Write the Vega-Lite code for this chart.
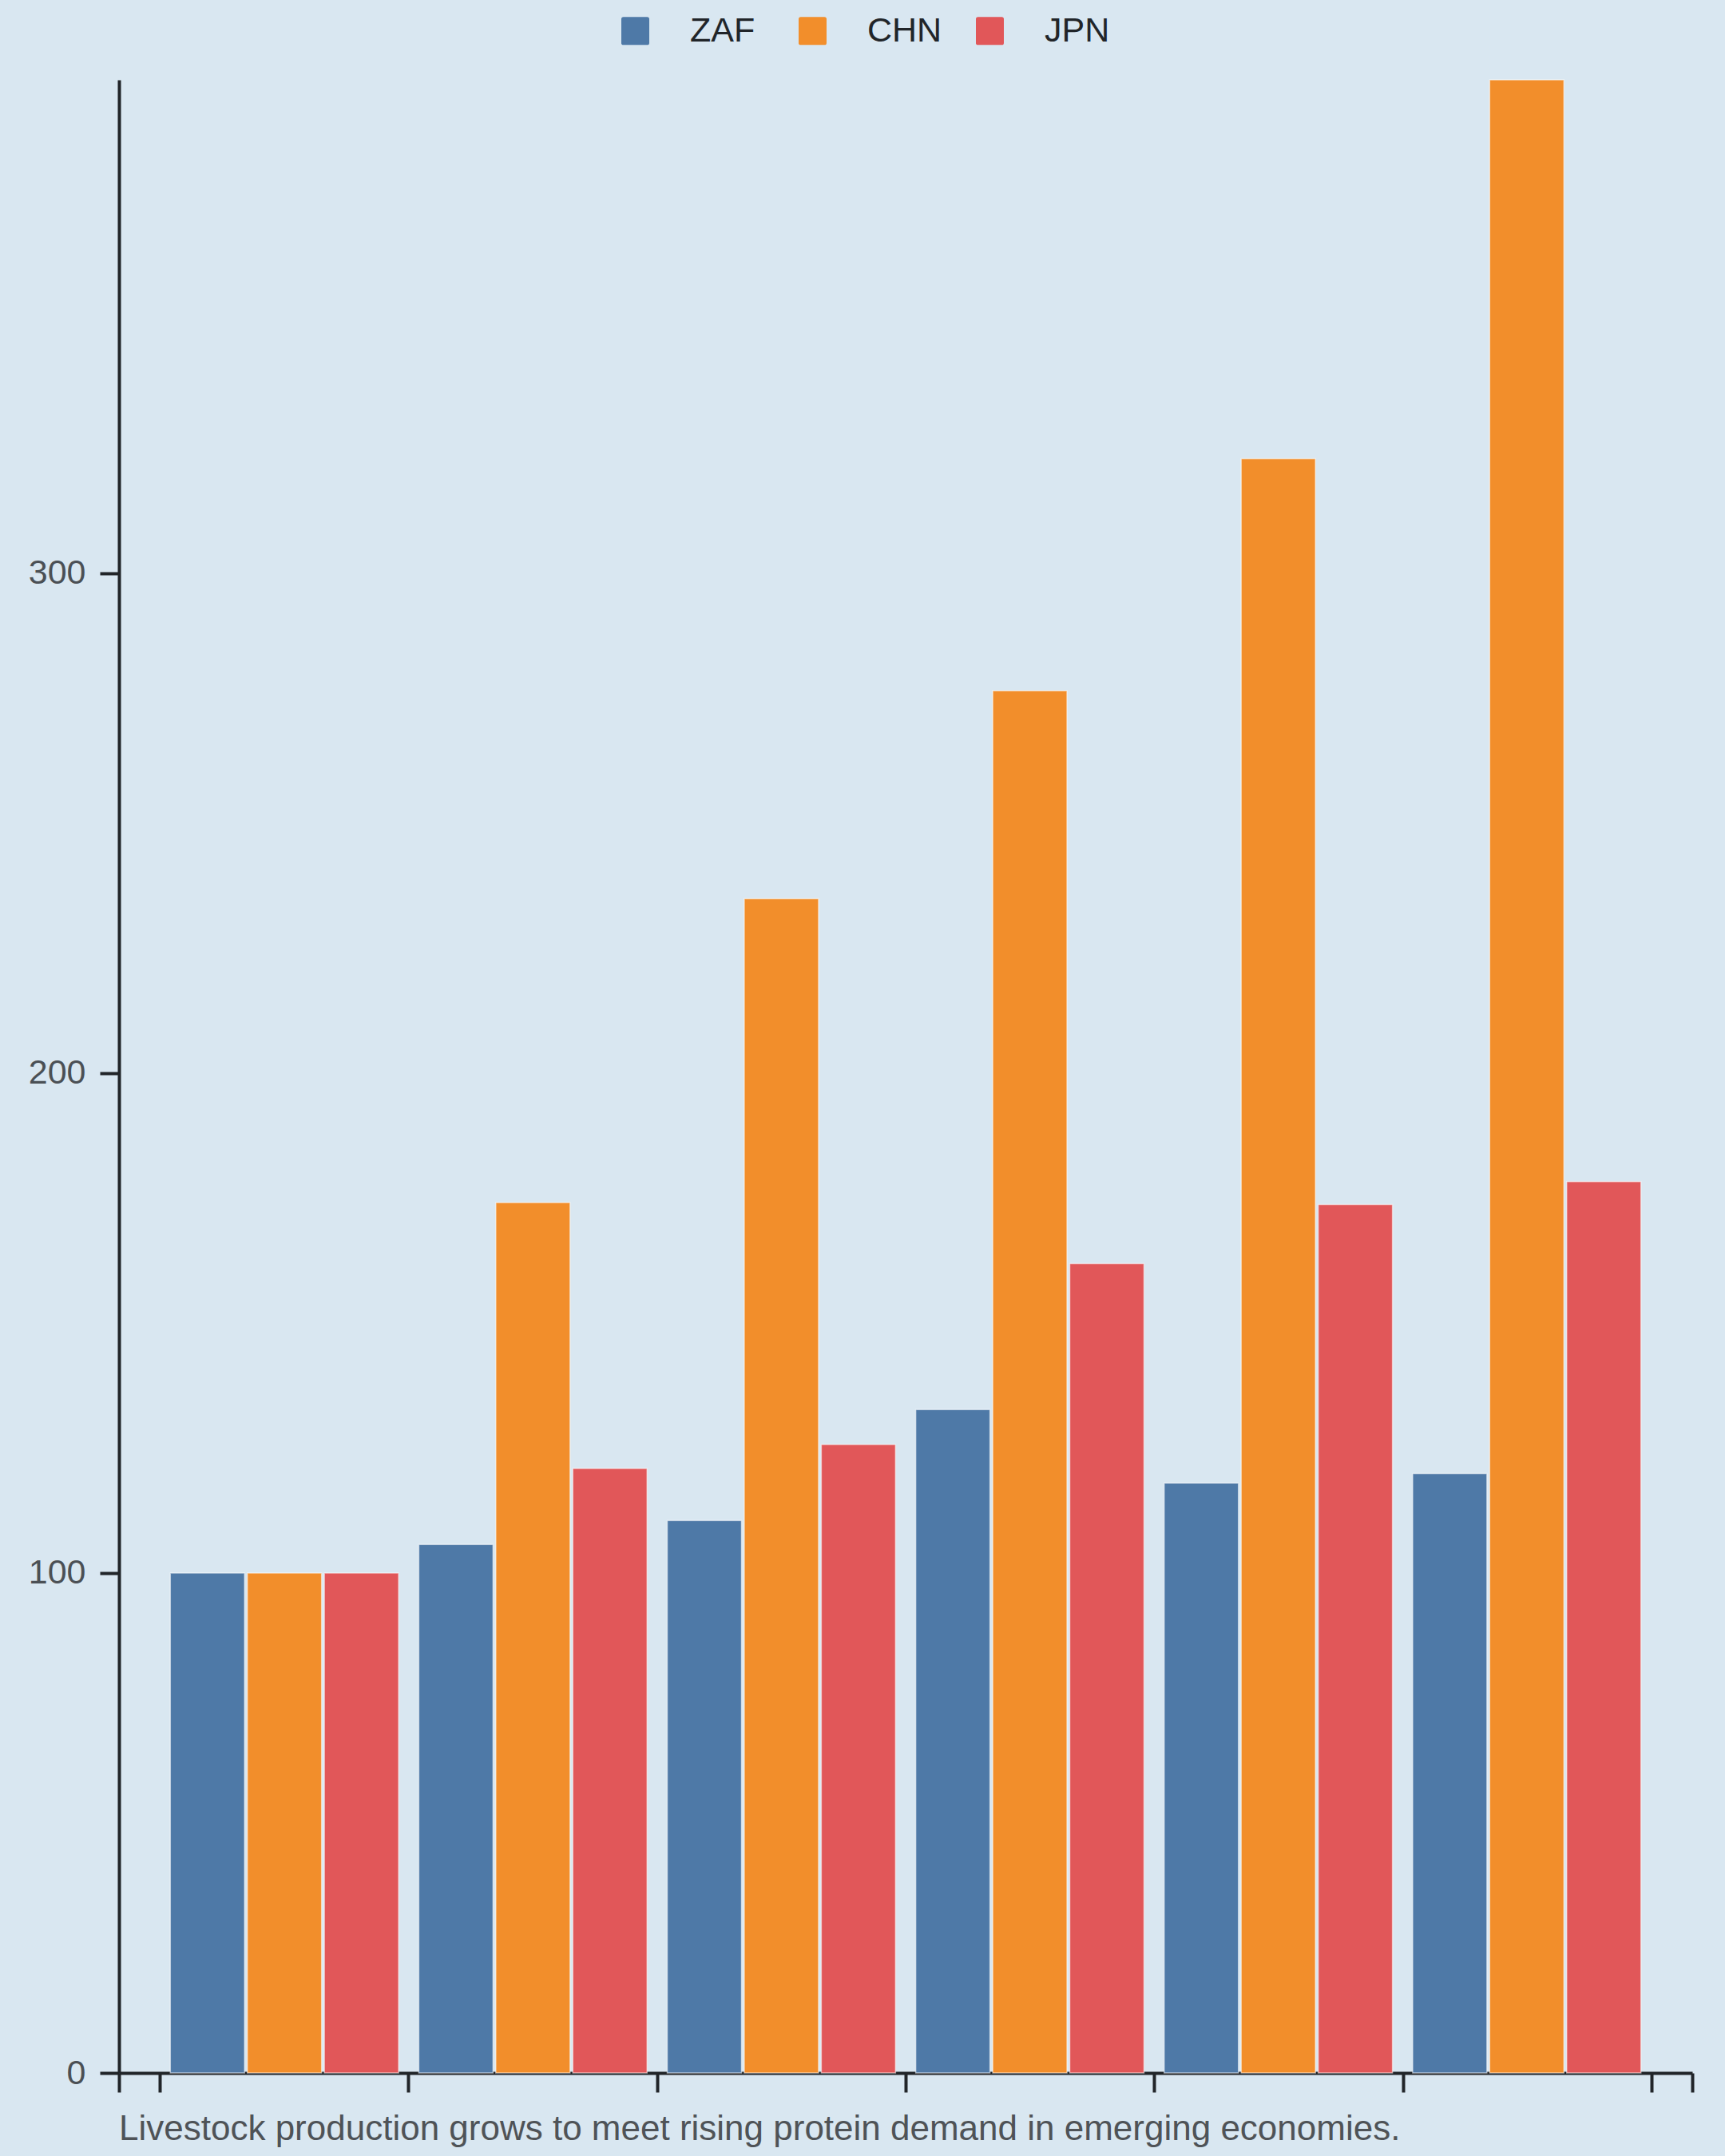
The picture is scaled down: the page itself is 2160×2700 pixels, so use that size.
{
  "$schema": "https://vega.github.io/schema/vega-lite/v6.json",
  "width": 1970,
  "height": 2496,
  "autosize": "none",
  "padding": {"left": 149, "top": 100, "right": 41, "bottom": 104},
  "background": "#d9e7f1",
  "title": {
    "text": "Livestock production grows to meet rising protein demand in emerging economies.",
    "orient": "bottom",
    "anchor": "start",
    "frame": "group",
    "fontSize": 44,
    "fontWeight": "normal",
    "color": "#4f5357",
    "offset": 23
  },
  "data": {
    "values": [
      {"year": 1965, "country": "ZAF", "value": 100},
      {"year": 1965, "country": "CHN", "value": 100},
      {"year": 1965, "country": "JPN", "value": 100},
      {"year": 1975, "country": "ZAF", "value": 105.7},
      {"year": 1975, "country": "CHN", "value": 174.1},
      {"year": 1975, "country": "JPN", "value": 120.9},
      {"year": 1985, "country": "ZAF", "value": 110.5},
      {"year": 1985, "country": "CHN", "value": 234.9},
      {"year": 1985, "country": "JPN", "value": 125.7},
      {"year": 1995, "country": "ZAF", "value": 132.7},
      {"year": 1995, "country": "CHN", "value": 276.5},
      {"year": 1995, "country": "JPN", "value": 161.9},
      {"year": 2005, "country": "ZAF", "value": 118.0},
      {"year": 2005, "country": "CHN", "value": 322.9},
      {"year": 2005, "country": "JPN", "value": 173.7},
      {"year": 2015, "country": "ZAF", "value": 119.9},
      {"year": 2015, "country": "CHN", "value": 398.7},
      {"year": 2015, "country": "JPN", "value": 178.3}
    ]
  },
  "layer": [
    {
      "mark": {"type": "bar", "stroke": "#ffffff", "strokeWidth": 1.5, "strokeOpacity": 0.55},
      "encoding": {
        "x": {
          "field": "year",
          "type": "ordinal",
          "scale": {"paddingInner": 0.0813, "paddingOuter": 0.2066},
          "axis": null
        },
        "xOffset": {
          "field": "country",
          "type": "nominal",
          "scale": {"domain": ["ZAF", "CHN", "JPN"], "paddingInner": 0.036, "paddingOuter": 0}
        },
        "y": {
          "field": "value",
          "type": "quantitative",
          "scale": {"domain": [0, 398.7], "nice": false},
          "axis": {
            "values": [0, 100, 200, 300],
            "title": null,
            "grid": false,
            "labelFontSize": 43,
            "labelColor": "#4b5055",
            "labelPadding": 18,
            "tickSize": 24,
            "tickWidth": 4,
            "tickColor": "#212529",
            "domainWidth": 4,
            "domainColor": "#212529"
          }
        },
        "color": {
          "field": "country",
          "type": "nominal",
          "scale": {"domain": ["ZAF", "CHN", "JPN"], "range": ["#4e79a7", "#f28e2b", "#e15759"]},
          "legend": {
            "title": null,
            "orient": "none",
            "direction": "horizontal",
            "legendX": 625,
            "legendY": -83,
            "padding": 0,
            "gridAlign": "all",
            "columnPadding": 38,
            "labelOffset": 47,
            "labelFontSize": 43,
            "labelColor": "#212529",
            "symbolSize": 1225,
            "symbolStrokeWidth": 0,
            "symbolType": "M-0.85,-1H0.85Q1,-1 1,-0.85V0.85Q1,1 0.85,1H-0.85Q-1,1 -1,0.85V-0.85Q-1,-1 -0.85,-1Z"
          }
        }
      }
    },
    {
      "mark": {"type": "point", "opacity": 0},
      "encoding": {
        "x": {
          "field": "year",
          "type": "quantitative",
          "scale": {"domain": [1958.36, 2021.64], "nice": false, "zero": false},
          "axis": {
            "orient": "bottom",
            "values": [1958.36, 1960, 1970, 1980, 1990, 2000, 2010, 2020, 2021.64],
            "labels": false,
            "title": null,
            "grid": false,
            "tickSize": 24,
            "tickWidth": 4,
            "tickColor": "#212529",
            "domainWidth": 4,
            "domainColor": "#212529"
          }
        }
      }
    }
  ],
  "resolve": {"scale": {"x": "independent"}, "axis": {"x": "independent"}},
  "config": {
    "font": "Liberation Sans",
    "view": {"stroke": null}
  }
}
